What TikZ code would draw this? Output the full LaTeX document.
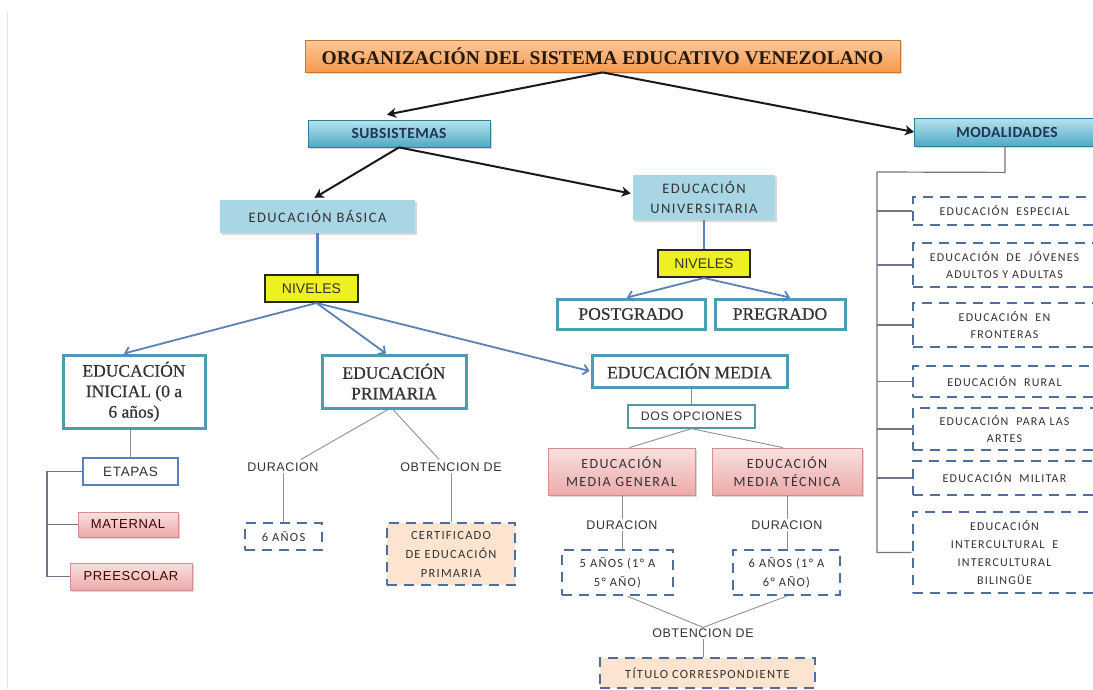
\documentclass[tikz,border=0pt]{standalone}
\usepackage{fontspec}
\setmainfont{Liberation Serif}
\newfontfamily\serb[FakeBold=0.6]{Liberation Serif}
\newfontfamily\calf[LetterSpace=3]{Carlito}
\newfontfamily\calsp[LetterSpace=10]{Carlito}
\newfontfamily\arf{Liberation Sans}
\newfontfamily\arsp[LetterSpace=5]{Liberation Sans}
\usetikzlibrary{shadows,shadings,calc,arrows.meta}
\definecolor{orT}{HTML}{FCC89C}
\definecolor{orB}{HTML}{F5994C}
\definecolor{orD}{HTML}{C8742C}
\definecolor{blT}{HTML}{B8E2EF}
\definecolor{blB}{HTML}{4FAAC6}
\definecolor{blD}{HTML}{2E7E98}
\definecolor{lblue}{HTML}{A9D6E4}
\definecolor{tealB}{HTML}{4A9DB2}
\definecolor{steel}{HTML}{5B82B8}
\definecolor{dashc}{HTML}{4E6E9E}
\definecolor{peach}{HTML}{FCE4D0}
\definecolor{pkT}{HTML}{F9E0E0}
\definecolor{pkB}{HTML}{ECAAA9}
\definecolor{pkD}{HTML}{D48E8C}
\definecolor{yel}{HTML}{EEF022}
\definecolor{txt}{HTML}{333333}
\definecolor{navy}{HTML}{1F3550}
\definecolor{glin}{HTML}{8F8F8F}
\tikzset{
  box/.style={inner sep=0pt, align=center, text=txt},
  shad/.style={drop shadow={shadow xshift=1.5pt, shadow yshift=-2pt, opacity=0.3}},
  titlebox/.style={box, shad, top color=orT, bottom color=orB, draw=orD, line width=0.8pt,
     text=black!80!brown, font=\bfseries\fontsize{19.5}{22}\selectfont},
  subbox/.style={box, shad, top color=blT, bottom color=blB, draw=blD, line width=0.8pt,
     text=navy, font=\calf\bfseries\fontsize{15.5}{17}\selectfont},
  lbbox/.style={box, shad, fill=lblue, font=\calsp\fontsize{14.5}{20}\selectfont},
  yelbox/.style={box, fill=yel, draw=black!85, line width=2pt, text=black!80,
     font=\arf\fontsize{14}{16}\selectfont},
  tealbox/.style={box, fill=white, draw=tealB, line width=3pt, text=black!80,
     font=\serb\fontsize{17.5}{20.5}\selectfont},
  pinkbox/.style={box, shad, top color=pkT, bottom color=pkB, draw=pkD, line width=0.8pt},
  dashbox/.style={box, draw=dashc, line width=2.6pt, dash pattern=on 10pt off 7pt,
     fill=white, font=\calsp\fontsize{12.5}{19}\selectfont},
  modbox/.style={dashbox, minimum width=183pt, font=\calsp\fontsize{12}{17}\selectfont},
  lbl/.style={inner sep=1pt, text=txt, font=\arsp\fontsize{12.5}{14}\selectfont},
  blk/.style={draw=black!90, line width=2pt, -{Stealth[length=9pt,width=10pt,inset=2.5pt]}},
  blu/.style={draw=steel, line width=1.8pt, -{Straight Barb[length=5pt,width=10pt]}},
  bline/.style={draw=steel, line width=2.2pt},
  gline/.style={draw=glin, line width=0.9pt},
  brk/.style={draw=gray!90!blue, line width=1.2pt}
}
\begin{document}
\begin{tikzpicture}[x=1pt,y=-1pt]
\useasboundingbox (0,0) rectangle (1093,689);
\fill[white] (0,0) rectangle (1093,689);
\clip (0,0) rectangle (1093,689);
\draw[black!10, line width=1pt] (7,12) -- (7,689);

% top
\node[titlebox, minimum width=595pt, minimum height=32pt] (title) at (602.5,56) {ORGANIZACIÓN DEL SISTEMA EDUCATIVO VENEZOLANO};
\node[subbox, minimum width=182pt, minimum height=27pt] (subs) at (399,133.5) {SUBSISTEMAS};
\node[subbox, minimum width=185pt, minimum height=28pt] (modal) at (1007,132) {MODALIDADES};

\draw[blk] (title.south) -- ($(subs.north)+(-12,-5)$);
\draw[blk] (title.south) -- (modal.west);

\node[lbbox, minimum width=195pt, minimum height=33pt] (basica) at (317.5,216.5) {EDUCACIÓN BÁSICA};
\node[lbbox, minimum width=142pt, minimum height=45pt] (univ) at (704,197.5) {EDUCACIÓN\\UNIVERSITARIA};
\draw[blk] (subs.south) -- ($(basica.north)+(-3,-2)$);
\draw[blk] (subs.south) -- ($(univ.west)+(-2,-4)$);

\node[yelbox, minimum width=93pt, minimum height=27pt] (niv1) at (311.5,288.5) {NIVELES};
\node[yelbox, minimum width=92pt, minimum height=27pt] (niv2) at (704,263.5) {NIVELES};
\draw[bline] (basica.south) -- (basica.south |- niv1.north);
\draw[bline] (univ.south) -- (niv2.north);

\node[tealbox, minimum width=148pt, minimum height=30pt] (postg) at (631,314) {POSTGRADO};
\node[tealbox, minimum width=130pt, minimum height=30pt] (pregr) at (780,314) {PREGRADO};
\draw[blu] (niv2.south) -- ($(postg.north)+(-4,0)$);
\draw[blu] (niv2.south) -- ($(pregr.north)+(10,0)$);

\node[tealbox, minimum width=142pt, minimum height=73pt] (inicial) at (134,391.5) {EDUCACIÓN\\INICIAL (0 a\\6 años)};
\node[tealbox, minimum width=144pt, minimum height=53pt] (primaria) at (394,381.5) {EDUCACIÓN\\PRIMARIA};
\node[tealbox, minimum width=195pt, minimum height=32pt] (media) at (689.5,371) {EDUCACIÓN MEDIA};
\draw[blu] ($(niv1.south)+(5,0)$) -- ($(inicial.north)+(-10,0)$);
\draw[blu] ($(niv1.south)+(5,0)$) -- ($(primaria.north)+(-8,0)$);
\draw[blu] ($(niv1.south)+(5,0)$) -- ($(media.west)+(-1,0)$);

% inicial
\node[box, fill=white, draw=steel, line width=1.5pt, minimum width=95pt, minimum height=27pt,
  font=\arsp\fontsize{13.5}{15}\selectfont] (etapas) at (130.5,471.5) {ETAPAS};
\node[pinkbox, minimum width=100pt, minimum height=25pt, font=\arsp\fontsize{13}{15}\selectfont, text=black!75!red] (maternal) at (128,524.5) {MATERNAL};
\node[pinkbox, minimum width=122pt, minimum height=27pt, font=\arsp\fontsize{13}{15}\selectfont, text=black!75!red] (preesc) at (131,576.5) {PREESCOLAR};
\draw[gline, line width=1.3pt] (etapas.north) -- (etapas.north |- inicial.south);
\coordinate (lb) at (47,0);
\draw[brk] (etapas.west) -- (lb |- etapas.west) -- (lb |- preesc.west) -- (preesc.west);
\draw[brk] (lb |- maternal.west) -- (maternal.west);

% primaria
\node[lbl] (dur1) at (283,467) {DURACION};
\node[lbl] (obt1) at (451,467) {OBTENCION DE};
\node[dashbox, minimum width=77pt, minimum height=27pt] (seis) at (283.5,536.5) {6 AÑOS};
\node[dashbox, fill=peach, minimum width=128pt, minimum height=62pt] (cert) at (451,554) {CERTIFICADO\\DE EDUCACIÓN\\PRIMARIA};
\draw[gline] ($(primaria.south)+(-6,0)$) -- ($(dur1.north)+(18,-2)$);
\draw[gline] ($(primaria.south)+(-1,0)$) -- ($(obt1.north)+(-12,-2)$);
\draw[gline] (dur1.south) -- (dur1.south |- seis.north);
\draw[gline] (obt1.south) -- (obt1.south |- cert.north);

% media
\node[box, fill=white, draw=tealB!80!gray, line width=1.3pt, minimum width=127pt, minimum height=23pt,
  font=\arsp\fontsize{12.3}{14}\selectfont] (dos) at (691.5,416.5) {DOS OPCIONES};
\draw[gline, line width=1.3pt] (media.south -| dos.north) -- (dos.north);
\node[pinkbox, minimum width=147pt, minimum height=47pt, font=\calsp\fontsize{14}{18}\selectfont] (mgen) at (621.5,471.5) {EDUCACIÓN\\MEDIA GENERAL};
\node[pinkbox, minimum width=150pt, minimum height=47pt, font=\calsp\fontsize{14}{18}\selectfont] (mtec) at (787,471.5) {EDUCACIÓN\\MEDIA TÉCNICA};
\draw[gline] (dos.south) -- ($(mgen.north)+(8,0)$);
\draw[gline] (dos.south) -- ($(mtec.north)+(-4,0)$);
\node[lbl] (dur2) at (622,525) {DURACION};
\node[lbl] (dur3) at (787,525) {DURACION};
\draw[gline] (mgen.south -| dur2.north) -- (dur2.north);
\draw[gline] (mtec.south -| dur3.north) -- (dur3.north);
\node[dashbox, minimum width=111pt, minimum height=45pt] (cinco) at (617.5,572.5) {5 AÑOS (1° A\\5° AÑO)};
\node[dashbox, minimum width=107pt, minimum height=45pt] (seis2) at (786.5,572.5) {6 AÑOS (1° A\\6° AÑO)};
\draw[gline] (dur2.south) -- (dur2.south |- cinco.north);
\draw[gline] (dur3.south) -- (dur3.south |- seis2.north);
\node[lbl] (obt2) at (703,633) {OBTENCION DE};
\draw[gline] ($(cinco.south)+(10,0)$) -- (obt2.north);
\draw[gline] (seis2.south) -- (obt2.north);
\node[dashbox, fill=peach, minimum width=215pt, minimum height=30pt] (titulo) at (707.5,673) {TÍTULO CORRESPONDIENTE};
\draw[gline] (obt2.south) -- (obt2.south |- titulo.north);

% modalidades
\node[modbox, minimum height=28pt] (esp) at (1004.5,211) {EDUCACIÓN \ ESPECIAL};
\node[modbox, minimum height=44pt] (jov) at (1004.5,265) {EDUCACIÓN \ DE \ JÓVENES\\ADULTOS Y ADULTAS};
\node[modbox, minimum height=44pt] (fron) at (1004.5,325) {EDUCACIÓN \ EN\\FRONTERAS};
\node[modbox, minimum height=31pt] (rural) at (1004.5,381.5) {EDUCACIÓN \ RURAL};
\node[modbox, minimum height=42pt] (artes) at (1004.5,429) {EDUCACIÓN \ PARA LAS\\ARTES};
\node[modbox, minimum height=34pt] (mil) at (1004.5,478) {EDUCACIÓN \ MILITAR};
\node[modbox, minimum height=81pt, font=\calsp\fontsize{12}{18}\selectfont] (inter) at (1004.5,552.5) {EDUCACIÓN\\INTERCULTURAL \ E\\INTERCULTURAL\\BILINGÜE};
\coordinate (mb) at (877,172);
\draw[brk] ($(modal.south)+(-2,0)$) -- ($(modal.south)+(-2,26)$) -- (mb) -- (mb |- inter.west) -- (inter.west);
\foreach \n in {esp,jov,fron,rural,artes,mil}
  \draw[brk] (mb |- \n.west) -- (\n.west);
\end{tikzpicture}
\end{document}
